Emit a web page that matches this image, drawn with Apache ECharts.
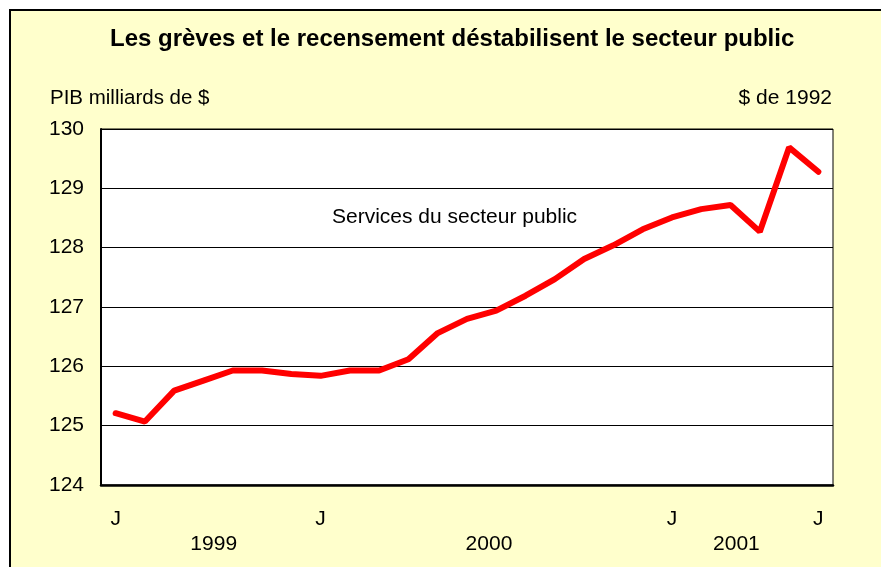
<!DOCTYPE html>
<html>
<head>
<meta charset="utf-8">
<script src="https://cdn.jsdelivr.net/npm/echarts@6/dist/echarts.min.js"></script>
<style>
	html, body { margin: 0; padding: 0; background: #fff; }
	#chart { width: 881px; height: 567px; }
</style>
</head>
<body>
<div id="chart"></div>
<script>
// monthly points, June 1999 .. June 2001
const months = [
	"1999-06", "1999-07", "1999-08", "1999-09", "1999-10", "1999-11", "1999-12",
	"2000-01", "2000-02", "2000-03", "2000-04", "2000-05", "2000-06",
	"2000-07", "2000-08", "2000-09", "2000-10", "2000-11", "2000-12",
	"2001-01", "2001-02", "2001-03", "2001-04", "2001-05", "2001-06",
];
const monthLabels = [
	"J", "", "", "", "", "", "",
	"J", "", "", "", "", "",
	"", "", "", "", "", "",
	"J", "", "", "", "", "J",
];
const gdp = [
	125.21, 125.07, 125.59, 125.76, 125.93, 125.93, 125.87,
	125.84, 125.93, 125.93, 126.12, 126.56, 126.80,
	126.94, 127.19, 127.47, 127.81, 128.04, 128.31,
	128.51, 128.65, 128.72, 128.27, 129.69, 129.28,
];
const years = ["1999", "2000", "2001"];
const yearPos = [3.85, 13.25, 21.7];

const font = "Liberation Sans, Arial, sans-serif";
const chart = echarts.init(document.getElementById("chart"));

chart.setOption({
	animation : false,
	textStyle : { fontFamily: font },
	title     : [
		{
			text      : "Les grèves et le recensement déstabilisent le secteur public",
			left      : 105,
			top       : 22,
			textStyle : { fontSize: 24, fontWeight: "bold", color: "#000", fontFamily: font },
		},
		{
			text      : "PIB milliards de $",
			left      : 45,
			top       : 83,
			textStyle : { fontSize: 20.5, fontWeight: "normal", color: "#000", fontFamily: font },
		},
		{
			text      : "$ de 1992",
			right     : 44,
			top       : 83,
			textStyle : { fontSize: 21, fontWeight: "normal", color: "#000", fontFamily: font },
		},
	],
	graphic: [
		{
			type  : "rect",
			z     : -10,
			shape : { x: 10, y: 10, width: 900, height: 600 },
			style : { fill: "#FFFFCC", stroke: "#000", lineWidth: 2 },
		},
		{
			type  : "text",
			left  : 332,
			top   : 207,
			style : { text: "Services du secteur public", fill: "#000", font: "21px " + font },
		},
	],
	grid: {
		left            : 101,
		right           : 48,
		top             : 129,
		bottom          : 82,
		show            : true,
		backgroundColor : "#fff",
		borderColor     : "#000",
		borderWidth     : 1,
	},
	xAxis: [
		{
			type        : "category",
			data        : months,
			boundaryGap : true,
			axisLine    : { lineStyle: { color: "#000", width: 2.5 } },
			axisTick    : { inside: true, length: 5, interval: 0, lineStyle: { color: "#000", width: 1.5 } },
			axisLabel   : {
				interval  : 0,
				margin    : 24,
				fontSize  : 21,
				color     : "#000",
				formatter : (v, i) => monthLabels[i],
			},
		},
		{
			type      : "value",
			position  : "bottom",
			min       : 0,
			max       : 25,
			axisLine  : { show: false },
			axisTick  : { show: false },
			splitLine : { show: false },
			axisLabel : {
				customValues : yearPos,
				margin       : 49,
				fontSize     : 21,
				color        : "#000",
				formatter    : v => years[yearPos.indexOf(v)] ?? "",
			},
		},
	],
	yAxis: {
		type      : "value",
		min       : 124,
		max       : 130,
		interval  : 1,
		axisLine  : { show: true, lineStyle: { color: "#000", width: 2 } },
		axisTick  : { show: false },
		splitLine : { lineStyle: { color: "#000", width: 1 } },
		axisLabel : { fontSize: 21, color: "#000", margin: 17, padding: [5, 0, 0, 0] },
	},
	series: [
		{
			type       : "line",
			data       : gdp,
			showSymbol : false,
			lineStyle  : { color: "#FF0000", width: 6, cap: "round" },
		},
	],
});
</script>
</body>
</html>
